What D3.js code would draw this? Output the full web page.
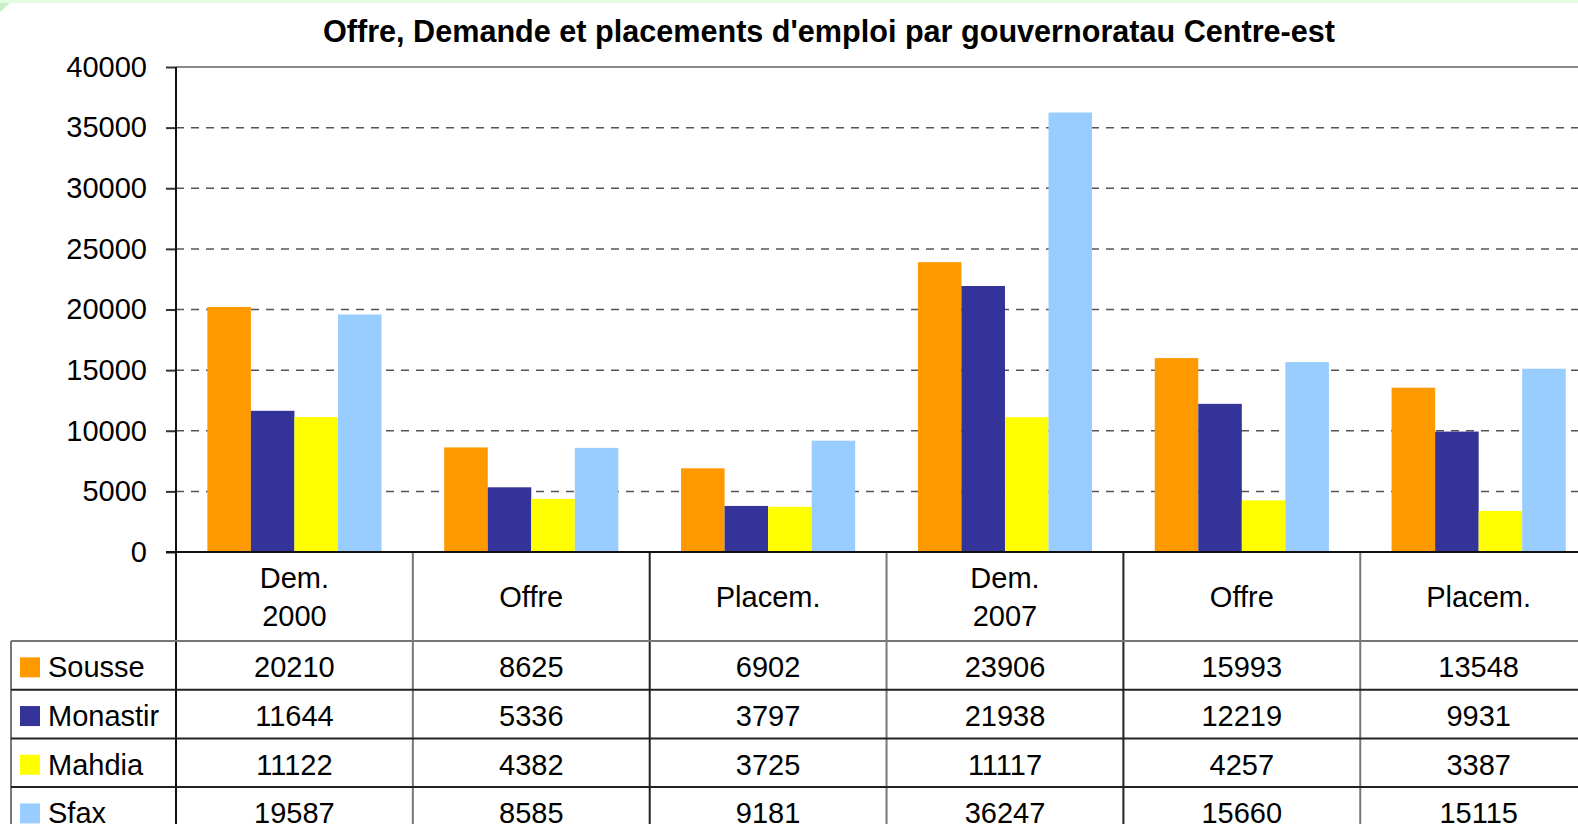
<!DOCTYPE html>
<html>
<head>
<meta charset="utf-8">
<script src="https://cdnjs.cloudflare.com/ajax/libs/d3/7.8.5/d3.min.js"></script>
<style>
    html, body { margin: 0; padding: 0; background: #fff; overflow: hidden; }
    svg { display: block; font-family: "Liberation Sans", Arial, sans-serif; }
</style>
</head>
<body>
<svg id="chart" width="1578" height="824"></svg>
<script>
var title = "Offre, Demande et placements d'emploi par gouvernoratau Centre-est";
var categories = ["Dem.\n2000", "Offre", "Placem.", "Dem.\n2007", "Offre", "Placem."];
var seriesNames = ["Sousse", "Monastir", "Mahdia", "Sfax"];
var seriesColors = ["#ff9900", "#333399", "#ffff00", "#99ccff"];
var sousse = [20210, 8625, 6902, 23906, 15993, 13548];
var monastir = [11644, 5336, 3797, 21938, 12219, 9931];
var mahdia = [11122, 4382, 3725, 11117, 4257, 3387];
var sfax = [19587, 8585, 9181, 36247, 15660, 15115];
var yTicks = [0, 5000, 10000, 15000, 20000, 25000, 30000, 35000, 40000];

var series = [sousse, monastir, mahdia, sfax];

var svg = d3.select("#chart");
var plotLeft = 176, plotTop = 67, plotBottom = 552;
var colW = 236.85;
var plotRight = plotLeft + colW * categories.length;
var fs = 29;
var headerBottom = 641;
var rowH = 48.7;

// top band
svg.append("rect")
    .attr("x", 0).attr("y", 0)
    .attr("width", 1578).attr("height", 3)
    .attr("fill", "#e3fce3")
;
svg.append("path")
    .attr("d", "M0,3 L10,3 L0,12 Z")
    .attr("fill", "#c9efc9")
;

svg.append("text")
    .attr("x", 829)
    .attr("y", 42)
    .attr("text-anchor", "middle")
    .attr("font-weight", "bold")
    .attr("font-size", "30.6px")
    .text(title)
;

var x0 = d3.scaleBand()
    .domain(d3.range(categories.length))
    .range([plotLeft, plotRight])
;
var x1 = d3.scaleBand()
    .domain(d3.range(seriesNames.length))
    .range([0, x0.bandwidth()])
    .paddingOuter(0.72)
;
var y = d3.scaleLinear()
    .domain([0, 40000])
    .range([plotBottom, plotTop])
;

// grid
svg.append("g")
    .selectAll("line")
    .data(yTicks.filter(function (d) { return d > 0 && d < 40000; }))
    .enter().append("line")
    .attr("x1", plotLeft).attr("x2", plotRight)
    .attr("y1", function (d) { return y(d); })
    .attr("y2", function (d) { return y(d); })
    .attr("stroke", "#555")
    .attr("stroke-width", 1.5)
    .attr("stroke-dasharray", "8,7")
;
svg.append("line")
    .attr("x1", plotLeft).attr("x2", plotRight)
    .attr("y1", y(40000)).attr("y2", y(40000))
    .attr("stroke", "#888")
    .attr("stroke-width", 2)
;

// bars
var groups = svg.append("g")
    .selectAll("g")
    .data(series)
    .enter().append("g")
    .attr("fill", function (d, i) { return seriesColors[i]; })
;
groups.each(function (values, si) {
    d3.select(this).selectAll("rect")
        .data(values)
        .enter().append("rect")
        .attr("x", function (d, ci) { return x0(ci) + x1(si); })
        .attr("y", function (d) { return y(d); })
        .attr("width", x1.bandwidth())
        .attr("height", function (d) { return plotBottom - y(d); })
    ;
});

// y axis
var yAxis = d3.axisLeft(y)
    .tickValues(yTicks)
    .tickSize(10)
    .tickPadding(19)
    .tickFormat(d3.format("d"))
;
var yg = svg.append("g")
    .attr("transform", "translate(" + plotLeft + ",0)")
    .call(yAxis)
;
yg.select(".domain").remove();
yg.selectAll(".tick line").attr("stroke", "#333").attr("stroke-width", 2);
yg.selectAll(".tick text")
    .attr("font-size", fs + "px")
    .attr("font-family", "Liberation Sans, Arial, sans-serif")
    .attr("fill", "#000")
;

// table
var rowCount = seriesNames.length;
var tableBottom = headerBottom + rowH * (rowCount + 1);
var t = svg.append("g");

t.append("line")
    .attr("x1", plotLeft).attr("x2", plotLeft)
    .attr("y1", plotTop).attr("y2", tableBottom)
    .attr("stroke", "#111").attr("stroke-width", 2)
;
t.selectAll(".vline")
    .data(d3.range(1, categories.length + 1))
    .enter().append("line")
    .attr("class", "vline")
    .attr("x1", function (i) { return x0(0) + colW * i; })
    .attr("x2", function (i) { return x0(0) + colW * i; })
    .attr("y1", plotBottom).attr("y2", tableBottom)
    .attr("stroke", function (i) { return i % 2 ? "#777" : "#222"; })
    .attr("stroke-width", 2)
;
t.append("line")
    .attr("x1", 11).attr("x2", 11)
    .attr("y1", headerBottom).attr("y2", tableBottom)
    .attr("stroke", "#777").attr("stroke-width", 2)
;
t.append("line")
    .attr("x1", 11).attr("x2", plotRight)
    .attr("y1", headerBottom).attr("y2", headerBottom)
    .attr("stroke", "#777").attr("stroke-width", 2)
;
t.selectAll(".hline")
    .data(d3.range(1, rowCount + 1))
    .enter().append("line")
    .attr("class", "hline")
    .attr("x1", 11).attr("x2", plotRight)
    .attr("y1", function (i) { return headerBottom + rowH * i; })
    .attr("y2", function (i) { return headerBottom + rowH * i; })
    .attr("stroke", "#222").attr("stroke-width", 2)
;
// baseline of plot
svg.append("line")
    .attr("x1", plotLeft - 10).attr("x2", plotRight)
    .attr("y1", plotBottom).attr("y2", plotBottom)
    .attr("stroke", "#111").attr("stroke-width", 2)
;

// header labels
var headMid = (plotBottom + headerBottom) / 2;
t.selectAll(".head")
    .data(categories)
    .enter().append("text")
    .attr("class", "head")
    .attr("text-anchor", "middle")
    .attr("font-size", fs + "px")
    .each(function (d, i) {
        var parts = d.split("\n");
        var lh = 38;
        var y0 = headMid + 10.5 - (parts.length - 1) * lh / 2;
        var el = d3.select(this);
        parts.forEach(function (p, k) {
            el.append("tspan")
                .attr("x", x0(i) + colW / 2)
                .attr("y", y0 + k * lh)
                .text(p)
            ;
        });
    })
;

// rows
var rows = t.selectAll(".row")
    .data(series)
    .enter().append("g")
    .attr("class", "row")
    .attr("transform", function (d, i) { return "translate(0," + (headerBottom + rowH * i + rowH / 2) + ")"; })
;
rows.append("rect")
    .attr("x", 20).attr("y", -8)
    .attr("width", 20).attr("height", 20)
    .attr("fill", function (d, i) { return seriesColors[i]; })
;
rows.append("text")
    .attr("x", 48).attr("y", 12)
    .attr("font-size", fs + "px")
    .text(function (d, i) { return seriesNames[i]; })
;
rows.selectAll(".val")
    .data(function (d) { return d; })
    .enter().append("text")
    .attr("class", "val")
    .attr("x", function (d, i) { return x0(i) + colW / 2; })
    .attr("y", 12)
    .attr("text-anchor", "middle")
    .attr("font-size", fs + "px")
    .text(function (d) { return d; })
;
</script>
</body>
</html>
